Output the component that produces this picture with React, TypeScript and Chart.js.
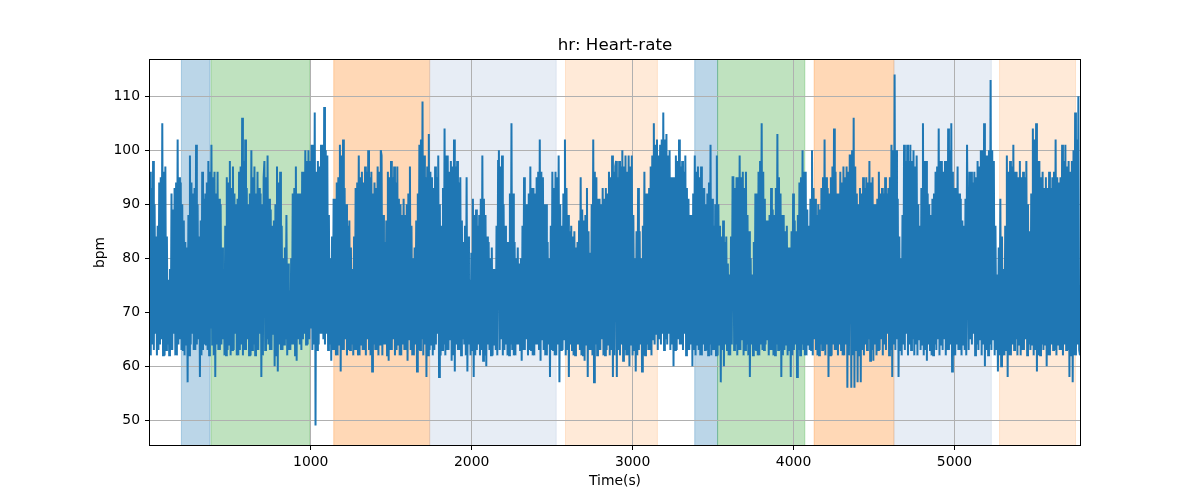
import React, { useEffect, useRef } from "react";
import { Chart, registerables } from "chart.js";

Chart.register(...registerables);

const TITLE = "hr: Heart-rate";
const X_LABEL = "Time(s)";
const Y_LABEL = "bpm";

const X_MIN = 1;
const X_MAX = 5780;
const Y_MIN = 45.4;
const Y_MAX = 116.7;
const X_TICKS = [1000, 2000, 3000, 4000, 5000];
const Y_TICKS = [50, 60, 70, 80, 90, 100, 110];

// heart-rate samples
const SEG_START = [1, 712, 1440, 2169, 2897, 3626, 4354, 5083];
const SEG_END = 5780;

const hr0 = [96,62,93,64,98,63,90,66,84,62,86,63,94,64,95,65,105,62,96,62,97,63,84,64,76,62,78,63,92,63,89,66,93,62,94,62,102,64,95,65,94,63,90,63,87,62,83,64,82,57,88,62,99,64,94,66,92,63,93,63,101,64,90,65,84,58,87,62,96,63,91,64,92,64,94,63,98,62,96,67,101,64,95,62,96,58,92,64,96,63,91,63,90,64,82,65,78,62,86,62,95,63,94,64,98,62,93,63,97,63,92,66,90,62,91,62,96,63,97,64,106,62,98,63,102,63,93,65,90,62,92,62,100,63,95,64,97,62,92,63,96,63,93,66,92,58,90,62,95];
const hr1 = [98,63,95,65,99,64,91,63,89,63,86,66,87,60,90,62,97,59,94,64,96,63,86,63,80,64,82,65,88,62,79,63,74,63,80,64,92,64,93,62,97,61,92,65,92,64,92,63,96,65,96,66,100,64,98,64,100,65,98,67,101,63,101,64,107,49,96,63,98,64,97,66,101,66,101,65,108,64,100,66,99,63,88,64,80,61,84,63,91,63,91,62,94,62,95,64,101,59,99,63,102,63,93,65,90,62,86,63,87,63,82,64,78,62,84,63,93,63,94,62,99,62,95,64,96,63,94,63,97,62,96,65,100,63,95,62,96,59,92,64,94,63,93,63,97,62,96,64,100];
const hr2 = [99,62,88,64,83,64,87,62,96,61,95,63,98,63,95,65,97,62,94,63,97,64,91,62,90,62,88,64,91,63,88,63,90,61,92,65,97,63,86,62,80,62,82,64,87,59,92,63,101,63,102,65,109,62,99,64,95,58,97,62,103,63,96,64,95,62,93,63,97,64,95,66,99,58,90,62,86,63,93,64,104,62,99,63,99,63,96,65,98,61,97,62,102,59,97,64,98,63,94,63,95,62,87,65,83,64,86,62,95,59,84,64,76,62,81,63,91,58,88,62,89,63,86,64,88,62,91,63,99,61,91,62,88,60,84,64,83,63,80,62,82,62,78,64,78,63,86,62,98];
const hr3 = [100,63,97,65,99,62,90,63,86,64,83,62,83,62,92,64,105,63,92,62,83,62,80,64,82,64,79,63,80,61,86,63,95,63,90,65,90,62,92,63,97,63,93,62,93,62,92,64,95,64,96,63,102,61,96,65,95,63,90,62,90,62,83,64,80,58,86,63,96,63,93,62,96,62,95,64,99,57,90,63,86,63,92,65,102,62,93,63,88,58,85,64,86,63,84,62,85,62,82,64,83,64,87,63,95,62,89,62,87,61,88,64,93,58,85,63,81,63,90,62,102,57,96,64,95,62,91,63,91,63,90,65,93,62,91,62,93,63,92,64,96,62,95,63,99,58,96,62,97];
const hr4 = [98,58,95,63,98,62,97,64,100,61,97,63,99,62,96,62,99,60,97,64,99,62,88,63,80,59,85,62,93,63,85,64,80,59,86,62,96,62,92,64,92,63,93,63,97,62,99,65,105,64,101,66,102,63,99,65,101,64,102,66,107,63,102,65,103,64,99,66,100,63,95,64,95,60,95,63,99,63,98,65,102,64,97,64,98,63,96,66,99,62,93,63,91,63,88,64,88,60,92,63,99,62,96,64,97,63,95,62,97,62,93,64,93,63,90,63,92,62,94,64,101,62,91,63,86,63,90,62,99,62,90,64,86,57,84,63,87,60,83,64,84,63,79,62,77,62,84,64,95];
const hr5 = [95,63,93,64,95,62,95,63,99,63,95,65,96,62,93,63,96,64,88,62,85,58,80,64,77,62,83,63,92,63,92,62,96,62,98,64,105,63,96,63,91,64,87,65,87,62,88,63,93,63,89,62,88,62,93,64,103,63,95,63,92,58,88,62,88,63,85,64,86,62,82,63,82,58,85,62,92,63,87,64,85,58,88,63,94,62,95,64,100,63,96,62,96,62,89,64,86,63,91,63,100,62,93,65,91,63,88,62,90,62,89,64,93,63,95,63,102,62,95,64,93,58,92,62,95,62,97,64,104,63,96,63,92,62,92,64,96,63,94,62,97,62,95,64,97,56,96,62,99];
const hr6 = [99,56,100,62,106,56,97,63,92,57,90,62,93,57,92,63,95,62,93,64,95,63,94,65,98,61,94,63,95,61,90,64,90,62,91,63,96,63,92,65,93,62,92,64,95,63,92,66,93,62,95,63,101,58,100,64,114,63,100,65,91,58,84,63,80,62,88,64,101,63,98,66,101,62,98,64,101,63,98,65,100,62,97,64,99,62,90,65,86,63,93,64,105,62,98,63,98,61,92,64,90,63,88,62,91,62,92,64,96,63,97,65,104,62,98,64,98,63,96,65,98,62,98,63,104,63,100,64,105,59,96,62,93,62,93,64,97,63,92,63,91,62,87,64,86,63,91,62,101];
const hr7 = [101,63,96,65,96,64,94,66,96,62,95,64,98,63,97,65,100,62,100,64,105,60,99,63,99,62,100,64,113,63,100,65,98,62,86,63,77,59,82,62,91,60,84,62,78,62,86,63,99,58,96,62,98,62,97,64,101,63,96,65,96,62,95,64,98,62,95,63,96,63,95,65,98,62,90,64,85,63,92,64,104,62,102,63,105,59,98,62,98,62,95,64,96,63,93,64,95,60,93,62,96,62,93,64,95,63,96,63,102,62,95,64,94,63,95,63,101,62,98,64,101,63,97,63,98,58,96,62,98,57,100,62,107,62,102,64,110,63,62];

const SEGMENTS = [hr0, hr1, hr2, hr3, hr4, hr5, hr6, hr7];

// shaded activity spans
const SPAN_START = [196, 380, 1143, 1739, 2583, 3386, 3528, 4128, 4624, 5280];
const SPAN_END = [374, 994, 1739, 2525, 3154, 3528, 4070, 4624, 5229, 5752];
const SPAN_COLOR = [
  "rgba(31,119,180,0.3)",
  "rgba(44,160,44,0.3)",
  "rgba(255,127,14,0.3)",
  "rgba(176,196,222,0.3)",
  "rgba(255,127,14,0.16)",
  "rgba(31,119,180,0.3)",
  "rgba(44,160,44,0.3)",
  "rgba(255,127,14,0.3)",
  "rgba(176,196,222,0.3)",
  "rgba(255,127,14,0.16)",
];

const FONT = "'DejaVu Sans', sans-serif";

const spansPlugin = {
  id: "spans",
  beforeDraw(chart: any) {
    const { ctx, chartArea, scales } = chart;
    const xs = scales.x;
    ctx.save();
    ctx.beginPath();
    ctx.rect(chartArea.left, chartArea.top, chartArea.width, chartArea.height);
    ctx.clip();
    SPAN_START.forEach((s, i) => {
      const x0 = xs.getPixelForValue(s);
      const x1 = xs.getPixelForValue(SPAN_END[i]);
      ctx.fillStyle = SPAN_COLOR[i];
      ctx.fillRect(x0, chartArea.top, x1 - x0, chartArea.height);
      ctx.strokeStyle = SPAN_COLOR[i];
      ctx.lineWidth = 1;
      ctx.beginPath();
      ctx.moveTo(x0, chartArea.top);
      ctx.lineTo(x0, chartArea.bottom);
      ctx.moveTo(x1, chartArea.top);
      ctx.lineTo(x1, chartArea.bottom);
      ctx.stroke();
    });
    ctx.restore();
  },
  afterDraw(chart: any) {
    const { ctx, chartArea } = chart;
    ctx.save();
    ctx.strokeStyle = "#000";
    ctx.lineWidth = 1;
    ctx.strokeRect(
      Math.round(chartArea.left) - 0.5,
      Math.round(chartArea.top) - 0.5,
      Math.round(chartArea.width) + 1,
      Math.round(chartArea.height) + 1
    );
    ctx.restore();
  },
};

export default function App() {
  const ref = useRef<HTMLCanvasElement | null>(null);

  useEffect(() => {
    document.body.style.margin = "0";
    const points = SEGMENTS.flatMap((vals, k) => {
      const start = SEG_START[k];
      const last = k === SEGMENTS.length - 1;
      const end = last ? SEG_END : SEG_START[k + 1];
      const n = last ? vals.length - 1 : vals.length;
      return vals.map((v, j) => ({ x: start + ((end - start) * j) / n, y: v }));
    });

    const chart = new Chart(ref.current as HTMLCanvasElement, {
      type: "line",
      data: {
        datasets: [
          {
            data: points,
            borderColor: "#1f77b4",
            borderWidth: 2,
            pointRadius: 0,
            fill: false,
            tension: 0,
          },
        ],
      },
      options: {
        animation: false,
        responsive: false,
        events: [],
        layout: { padding: { left: 0, right: 120, top: 0, bottom: 0 } },
        plugins: {
          legend: { display: false },
          tooltip: { enabled: false },
          title: {
            display: true,
            text: TITLE,
            color: "#000",
            fullSize: false,
            font: { family: FONT, size: 16.7, weight: "normal" },
            padding: { top: 36, bottom: 4 },
          },
        },
        scales: {
          x: {
            type: "linear",
            min: X_MIN,
            max: X_MAX,
            afterBuildTicks: (s: any) => {
              s.ticks = X_TICKS.map((v) => ({ value: v }));
            },
            afterFit: (s: any) => {
              s.height = 55;
            },
            border: { display: false },
            grid: { color: "#b0b0b0", lineWidth: 1, tickColor: "#000", tickLength: 5 },
            ticks: {
              color: "#000",
              font: { family: FONT, size: 13.9 },
              padding: 4,
              maxRotation: 0,
              autoSkip: false,
              callback: (v: any) => String(v),
            },
            title: {
              display: true,
              text: X_LABEL,
              color: "#000",
              font: { family: FONT, size: 13.9 },
              padding: { top: 0, bottom: 10.6 },
            },
          },
          y: {
            type: "linear",
            min: Y_MIN,
            max: Y_MAX,
            afterBuildTicks: (s: any) => {
              s.ticks = Y_TICKS.map((v) => ({ value: v }));
            },
            afterFit: (s: any) => {
              s.width = 150;
            },
            border: { display: false },
            grid: { color: "#b0b0b0", lineWidth: 1, tickColor: "#000", tickLength: 5 },
            ticks: {
              color: "#000",
              font: { family: FONT, size: 13.9 },
              padding: 5,
              autoSkip: false,
              callback: (v: any) => String(v),
            },
            title: {
              display: true,
              text: Y_LABEL,
              color: "#000",
              font: { family: FONT, size: 13.9 },
              padding: { top: 92.5, bottom: 0 },
            },
          },
        },
      },
      plugins: [spansPlugin],
    });
    return () => chart.destroy();
  }, []);

  return <canvas ref={ref} width={1200} height={500} style={{ display: "block" }} />;
}
